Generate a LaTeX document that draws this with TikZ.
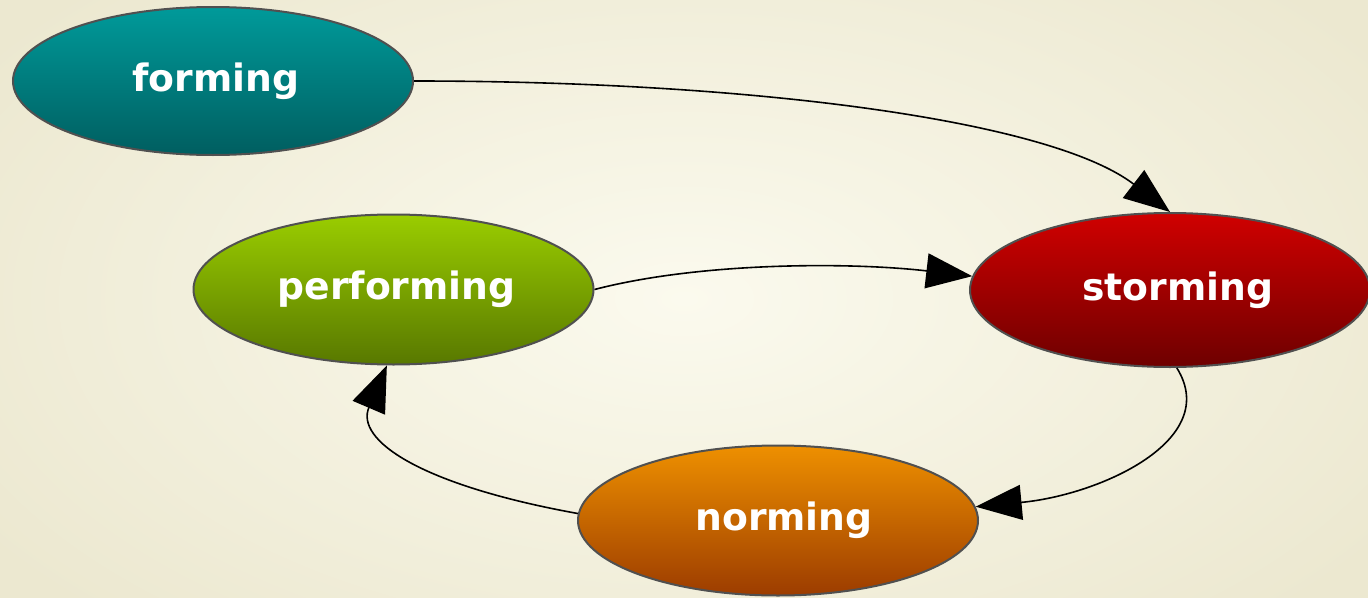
\documentclass[tikz,border=0pt]{standalone}
\usepackage{fontspec}
\setmainfont{DejaVu Sans}
\usetikzlibrary{shapes.geometric,arrows.meta}
\definecolor{bgin}{HTML}{FBFAEE}
\definecolor{bgout}{HTML}{ECE8D0}
\definecolor{rim}{HTML}{505050}
\definecolor{fTop}{HTML}{009A9A}
\definecolor{fBot}{HTML}{005E60}
\definecolor{pTop}{HTML}{9ACD00}
\definecolor{pBot}{HTML}{587800}
\definecolor{sTop}{HTML}{D00000}
\definecolor{sBot}{HTML}{6E0000}
\definecolor{nTop}{HTML}{EE9000}
\definecolor{nBot}{HTML}{9C3C00}
\tikzset{
  state/.style={ellipse, draw=rim, line width=2pt, minimum width=400pt, minimum height=150pt,
    inner sep=0pt, text=white, font=\fontsize{37.7}{40}\selectfont\bfseries},
  flow/.style={line width=1.6pt, draw=black, -{Triangle[length=46pt,width=35pt]}}
}
\begin{document}
\begin{tikzpicture}[x=1pt,y=-1pt]
\useasboundingbox (0,0) rectangle (1368,597);
\clip (0,0) rectangle (1368,597);
\shade[inner color=bgin, outer color=bgout] (-150,-150) rectangle (1518,747);
\node[state, top color=fTop, bottom color=fBot, minimum height=148pt] (forming) at (213,81) {\hspace{6pt}forming};
\node[state, top color=pTop, bottom color=pBot] (performing) at (393.5,289.5) {\hspace{6pt}performing};
\node[state, top color=sTop, bottom color=sBot, minimum height=154pt] (storming) at (1170,290) {\hspace{16pt}storming};
\node[state, top color=nTop, bottom color=nBot] (norming) at (778,520.5) {\hspace{12pt}norming};
\draw[flow] (forming.east) .. controls (750,81) and (1050,120) .. (storming.north);
\draw[flow] (performing.east) .. controls (700,262) and (850,262) .. (storming.176);
\draw[flow] (storming.-85) .. controls (1222,440) and (1100,495) .. (norming.4);
\draw[flow] (norming.178) .. controls (420,485) and (355,440) .. (performing.-95);
\end{tikzpicture}
\end{document}
